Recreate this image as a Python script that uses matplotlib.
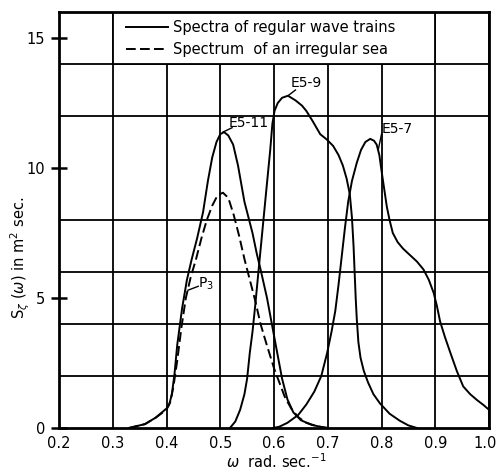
import matplotlib
matplotlib.use("Agg")
import matplotlib.pyplot as plt
import matplotlib.transforms as mtrans
from matplotlib.patches import Rectangle

# E5-11, regular wave train
e511_w = [0.33, 0.36, 0.38, 0.40, 0.405, 0.41, 0.415, 0.42, 0.429, 0.438, 0.447, 0.457,
          0.468, 0.477, 0.485, 0.493, 0.50, 0.507, 0.515, 0.524, 0.533, 0.545, 0.56,
          0.568, 0.575, 0.587, 0.596, 0.605, 0.615, 0.625, 0.636, 0.65, 0.67, 0.69, 0.70]
e511_s = [0.0, 0.15, 0.4, 0.75, 0.9, 1.3, 2.1, 3.2, 4.6, 5.7, 6.5, 7.3,
          8.3, 9.5, 10.4, 11.0, 11.3, 11.38, 11.25, 10.9, 10.1, 8.7, 7.5,
          6.7, 6.1, 5.0, 4.0, 3.0, 1.9, 1.1, 0.6, 0.3, 0.12, 0.03, 0.0]

# E5-9
e59_w = [0.518, 0.528, 0.537, 0.545, 0.55, 0.555, 0.56, 0.565, 0.571, 0.578, 0.585,
         0.593, 0.597, 0.601, 0.607, 0.615, 0.626, 0.64, 0.652, 0.66, 0.672, 0.686,
         0.698, 0.71, 0.72, 0.728, 0.735, 0.741, 0.745, 0.748, 0.75, 0.752, 0.754,
         0.757, 0.761, 0.767, 0.775, 0.785, 0.797, 0.815, 0.834, 0.85, 0.866]
e59_s = [0.0, 0.25, 0.7, 1.3, 1.9, 2.9, 3.7, 4.7, 6.0, 7.5, 9.0,
         10.7, 11.7, 12.2, 12.5, 12.7, 12.78, 12.6, 12.4, 12.2, 11.8, 11.3,
         11.1, 10.85, 10.5, 10.1, 9.6, 9.0, 8.1, 7.0, 6.0, 5.0, 4.2,
         3.3, 2.7, 2.2, 1.75, 1.3, 0.95, 0.55, 0.28, 0.1, 0.0]

# E5-7
e57_w = [0.598, 0.61, 0.625, 0.645, 0.66, 0.675, 0.688, 0.699, 0.707, 0.714, 0.72,
         0.726, 0.732, 0.738, 0.745, 0.754, 0.762, 0.77, 0.779, 0.786, 0.791, 0.796,
         0.80, 0.805, 0.81, 0.815, 0.821, 0.83, 0.84, 0.853, 0.866, 0.878, 0.888,
         0.897, 0.903, 0.909, 0.918, 0.928, 0.94, 0.952, 0.965, 0.978, 0.99, 1.0]
e57_s = [0.0, 0.05, 0.2, 0.5, 0.9, 1.4, 2.0, 2.9, 3.7, 4.5, 5.5,
         6.6, 7.7, 8.7, 9.5, 10.2, 10.7, 11.0, 11.12, 11.05, 10.9, 10.5,
         9.9, 9.2, 8.5, 8.0, 7.5, 7.15, 6.9, 6.65, 6.4, 6.1, 5.7,
         5.2, 4.7, 4.1, 3.5, 2.9, 2.2, 1.6, 1.3, 1.07, 0.88, 0.7]

# P3, irregular sea
p3_w = [0.33, 0.36, 0.38, 0.40, 0.407, 0.413, 0.42, 0.428, 0.436, 0.445, 0.455, 0.465,
        0.475, 0.485, 0.495, 0.505, 0.515, 0.525, 0.535, 0.545, 0.555, 0.565, 0.575,
        0.585, 0.60, 0.61, 0.62, 0.632, 0.645, 0.66, 0.68, 0.70]
p3_s = [0.0, 0.15, 0.4, 0.7, 1.0, 1.6, 2.6, 3.9, 5.0, 5.8, 6.5, 7.3,
        8.0, 8.55, 8.95, 9.05, 8.85, 8.2, 7.4, 6.5, 5.7, 4.9, 4.0,
        3.3, 2.3, 1.75, 1.2, 0.75, 0.42, 0.2, 0.07, 0.0]

x_ticks = [0.2, 0.3, 0.4, 0.5, 0.6, 0.7, 0.8, 0.9, 1.0]
x_labels = ["0.2", "0.3", "0.4", "0.5", "0.6", "0.7", "0.8", "0.9", "1.0"]
y_ticks = [0, 5, 10, 15]
y_grid = [2, 4, 6, 8, 10, 12, 14]

fig = plt.figure(figsize=(4.97, 4.75), dpi=100)
ax = fig.add_axes([59/497, 1-428/475, 430/497, 416/475])

ax.set_xlim(0.2, 1.0)
ax.set_ylim(0, 16)
ax.set_xticks(x_ticks)
ax.set_xticklabels(x_labels)
ax.set_yticks(y_ticks)
ax.set_yticks(y_grid, minor=True)
ax.set_axisbelow(True)
ax.grid(axis="x", which="major", color="black", lw=1.3)
ax.grid(axis="y", which="minor", color="black", lw=1.3)
ax.tick_params(axis="x", length=0, pad=6, labelsize=10.5)
ax.tick_params(axis="y", which="major", direction="inout", length=12, width=1.8,
               pad=4, labelsize=10.5)
ax.tick_params(axis="y", which="minor", length=0)
for s in ax.spines.values():
    s.set_linewidth(2)

# keep the last tick label inside the figure
last = ax.get_xticklabels()[-1]
last.set_transform(last.get_transform() +
                   mtrans.ScaledTranslation(-4/100, 0, fig.dpi_scale_trans))

lw = 1.4
ax.plot(e511_w, e511_s, color="black", lw=lw, label="Spectra of regular wave trains")
ax.plot(e59_w, e59_s, color="black", lw=lw)
ax.plot(e57_w, e57_s, color="black", lw=lw)
ax.plot(p3_w, p3_s, color="black", lw=lw, ls=(0, (5, 2.2)),
        label="Spectrum  of an irregular sea")

# legend box over the top row of the grid
ax.add_patch(Rectangle((0.3, 14), 0.6, 2, facecolor="white", edgecolor="black",
                       lw=1.3, zorder=1.5))
ax.legend(loc="center left", bbox_to_anchor=(0.324, 14.97),
          bbox_transform=ax.transData, frameon=False, borderpad=0,
          borderaxespad=0, handlelength=2.9, handletextpad=0.35,
          labelspacing=0.45, fontsize=10.5)

# curve labels
lab = dict(fontsize=10, ha="left", va="center")
ax.text(0.515, 11.72, "E5-11", **lab)
ax.plot([0.505, 0.522], [11.38, 11.55], color="black", lw=1)
ax.text(0.63, 13.25, "E5-9", **lab)
ax.plot([0.626, 0.64], [12.78, 13.0], color="black", lw=1)
ax.text(0.8, 11.5, "E5-7", **lab)
ax.plot([0.794, 0.8], [10.7, 11.3], color="black", lw=1)
ax.text(0.459, 5.55, "P$_3$", **lab)
ax.plot([0.44, 0.459], [5.3, 5.45], color="black", lw=1)

ax.text(-0.09, 0.41, r"S$_\zeta$ ($\omega$) in m$^2$ sec.", transform=ax.transAxes,
        rotation=90, ha="center", va="center", fontsize=10.5)
fig.text(276/497, 1-462/475, r"$\omega$  rad. sec.$^{-1}$", ha="center",
         va="center", fontsize=10.5)

fig.savefig("out.png", dpi=100)
